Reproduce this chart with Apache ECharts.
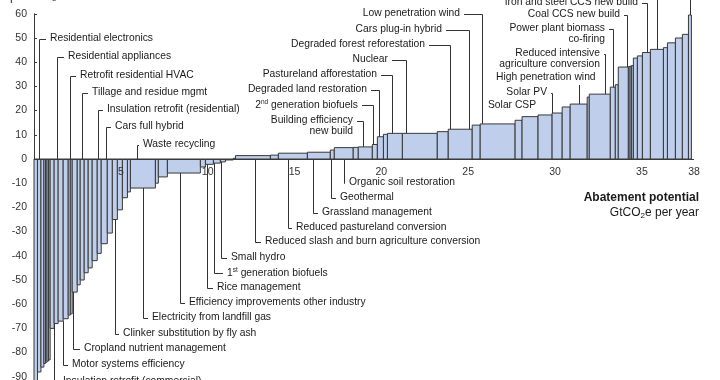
<!DOCTYPE html>
<html><head><meta charset="utf-8">
<script src="https://cdn.jsdelivr.net/npm/echarts@6/dist/echarts.min.js"></script>
<style>html,body{margin:0;padding:0;background:#fff}#c{width:720px;height:380px}</style>
</head><body><div id="c"></div>
<script>
// Abatement potential of each lever (GtCO2e per year) — bar widths, left to right
const abatement = [0.20,0.20,0.17,0.09,0.09,0.09,0.09,0.23,0.23,0.29,0.29,0.12,0.11,0.29,0.17,0.23,0.23,0.23,0.29,0.23,0.35,0.29,0.29,0.29,0.29,0.17,1.44,0.17,0.52,1.90,0.29,0.46,0.40,0.29,0.46,
  0.12,2.01,0.46,1.67,1.32,0.23,1.09,0.29,0.81,0.29,0.35,0.23,0.86,2.01,0.63,1.38,0.46,2.01,0.40,0.92,0.81,0.58,0.46,0.98,0.12,1.21,0.29,0.17,0.58,0.10,0.09,0.10,0.23,0.29,0.46,0.75,0.23,0.46,0.40,0.35,0.17];
// Abatement cost (€ per tCO2e) — bar heights
const cost = [-95,-88,-86,-84.5,-84,-83.5,-83,-70,-68,-67,-66,-64.5,-64,-55,-52,-50,-47,-45,-42,-39,-35,-30.6,-25,-21,-16,-13.6,-12,-10,-7.4,-5.8,-3.3,-2.2,-1.7,-1.2,-0.4,
  0.3,1.4,1.6,2.4,2.8,3.7,4.7,4.8,5,6,9.2,10.2,10.6,10.6,11.3,12.3,14,14.5,16,17.5,18.2,19,21.5,22.7,25.6,26.8,29.7,30.7,38,38.2,38.4,38.6,41.7,42.6,44,45.3,46,48,50,51.5,59.5];
const xTickLabels = [5,10,15,20,25,30,35,38];
const yTicks = {min:-90, max:60, step:10};

// Lever labels: [text, position on the abatement axis (Gt) of the bar it points to]
const leverNames = [
  ['Residential electronics',0.31],['Residential appliances',1.30],['Retrofit residential HVAC',2.10],['Tillage and residue mgmt',2.79],
  ['Insulation retrofit (residential)',3.71],['Cars full hybrid',4.15],['Waste recycling',5.93],
  ['Insulation retrofit (commercial)',1.18],['Motor systems efficiency',1.67],['Cropland nutrient management',2.25],['Clinker substitution by fly ash',4.66],
  ['Electricity from landfill gas',6.25],['Efficiency improvements other industry',8.41],['Rice management',9.96],['{n|1}{s|st}{n| generation biofuels}',10.34],
  ['Small hydro',10.74],['Reduced slash and burn agriculture conversion',12.75],['Reduced pastureland conversion',14.62],['Grassland management',16.06],
  ['Geothermal',17.10],['Organic soil restoration',17.82],
  ['Low penetration wind',25.79],['Cars plug-in hybrid',25.05],['Degraded forest reforestation',23.95],['Nuclear',21.39],['Pastureland afforestation',20.61],
  ['Degraded land restoration',19.84],['{n|2}{s|nd}{n| generation biofuels}',19.49],['Building efficiency\nnew build',18.97],
  ['Solar CSP',29.0],['Solar PV',29.85],['High penetration wind',31.35],['Reduced intensive\nagriculture conversion',32.88],['Power plant biomass\nco-firing',33.34],
  ['Coal CCS new build',34.14],['Iron and steel CCS new build',35.32],['Coal CCS retrofit',35.87],['Gas plant CCS retrofit',37.77]
];
// Layout of each label (pixels): leader kind, text x, text y
const leverLayout = [
  ['up',50,39],['up',68,57],['up',80,76],['up',92,93],['up',107,110],['up',115,127],['up',143,145],
  ['down',63,382],['down',72,365],['down',84,349],['down',123,334],
  ['down',152,318],['down',189,303],['down',217,288],['down',227,273],
  ['down',231,258],['down',265,242],['down',296,228],['down',322,213],
  ['down',340,198],['down',349,183],
  ['upR',460,14],['upR',442,30],['upR',425,45],['upR',388,60],['upR',377,75],
  ['upR',367,90],['upR',358,105],['upR',353,121],
  ['none',488,106],['upR',547,93],['below',496,78],['upR',600,54],['upR',605,29],
  ['upR',620,15],['upR',638,3],['upR',645,-10],['upR',680,-24]
];

const FONT = '"Liberation Sans", Arial, sans-serif';
const chart = echarts.init(document.getElementById('c'), null, {renderer:'canvas'});
let acc = 0;
const bars = abatement.map((w,i)=>{const s=acc; acc+=w; return [s, acc, cost[i]];});

chart.setOption({
  animation:false,
  grid:{left:34, top:13.8, width:660, height:363, containLabel:false, outerBoundsMode:'none'},
  xAxis:{type:'value', min:0, max:38, interval:5,
    axisLine:{show:false}, axisTick:{show:false}, splitLine:{show:false}, axisLabel:{show:false}},
  yAxis:{type:'value', min:yTicks.min, max:yTicks.max, interval:yTicks.step,
    axisLine:{show:true, onZero:false, lineStyle:{color:'#3a3a3a', width:1}},
    axisTick:{show:true, inside:true, length:3, lineStyle:{color:'#3a3a3a'}},
    splitLine:{show:false},
    axisLabel:{margin:7, fontSize:10.5, color:'#333', fontFamily:FONT}},
  series:[{type:'custom', data:bars, encode:{x:[0,1], y:2}, clip:false,
    renderItem:(params, api)=>{
      const p0 = api.coord([api.value(0), 0]);
      const p1 = api.coord([api.value(1), api.value(2)]);
      return {type:'rect', shape:{x:p0[0], y:Math.min(p0[1],p1[1]), width:p1[0]-p0[0], height:Math.abs(p1[1]-p0[1])},
        style:{fill:'#bfcfeb', stroke:'#383838', lineWidth:1}};
    }}]
});

const g = [];
const toPx = (v)=>chart.convertToPixel({gridIndex:0}, v);
// zero line (x axis) and its tick labels
const z0 = toPx([0,0]), z1 = toPx([38,0]);
g.push({type:'line', z:15, shape:{x1:z0[0], y1:Math.round(z0[1])+0.5, x2:z1[0], y2:Math.round(z0[1])+0.5}, style:{stroke:'#3a3a3a', lineWidth:1}});
xTickLabels.forEach(v=>{
  const p = toPx([v,0]);
  g.push({type:'text', z:16, style:{text:String(v), x:p[0], y:p[1]+8, textAlign:'center', textVerticalAlign:'top', font:'10.5px '+FONT, fill:'#333'}});
});
const rich = {n:{fontSize:10.3, fontFamily:FONT, fill:'#1a1a1a', lineHeight:12}, s:{fontSize:6.5, fontFamily:FONT, fill:'#1a1a1a', verticalAlign:'top', lineHeight:12}};
leverNames.forEach((ln,i)=>{
  const [text, xd] = ln; const [kind, tx, ty] = leverLayout[i];
  const b = bars.find(r=>xd>=r[0] && xd<r[1]) || bars[bars.length-1];
  const top = toPx([xd, Math.max(b[2],0)]);
  const bot = toPx([xd, Math.min(b[2],0)]);
  const bx = Math.round(top[0])+0.5;
  let pts = null;
  if (kind==='up') pts = [[bx, top[1]], [bx, ty+0.5], [tx-4, ty+0.5]];
  else if (kind==='down') pts = [[bx, bot[1]], [bx, ty+0.5], [tx-4, ty+0.5]];
  else if (kind==='upR') pts = [[tx+4, ty+0.5], [bx, ty+0.5], [bx, top[1]]];
  else if (kind==='below') pts = [[bx, ty+7], [bx, top[1]]];
  if (pts) g.push({type:'polyline', shape:{points:pts}, style:{stroke:'#333', lineWidth:1, fill:null}, z:20});
  const isRich = text.indexOf('{n|')===0;
  g.push({type:'text', z:21, style:{text:text, x:tx, y:ty-6, textAlign: kind==='upR' ? 'right' : 'left', textVerticalAlign:'top',
    font: '10.3px '+FONT, fill:'#1a1a1a', lineHeight:11, rich: isRich ? rich : undefined}});
});
g.push({type:'text', style:{text:'€ per tCO₂e', x:0, y:-9, font:'12px '+FONT, fill:'#333'}});
g.push({type:'text', style:{text:'Abatement potential', x:699, y:192, textAlign:'right', font:'bold 12px '+FONT, fill:'#1a1a1a'}});
g.push({type:'text', style:{text:'{a|GtCO}{b|2}{a|e per year}', x:699, y:206, textAlign:'right',
  rich:{a:{fontSize:12, fontFamily:FONT, fill:'#1a1a1a', lineHeight:14}, b:{fontSize:8, fontFamily:FONT, fill:'#1a1a1a', verticalAlign:'bottom', lineHeight:14}}}});
chart.setOption({graphic:g});
</script></body></html>
